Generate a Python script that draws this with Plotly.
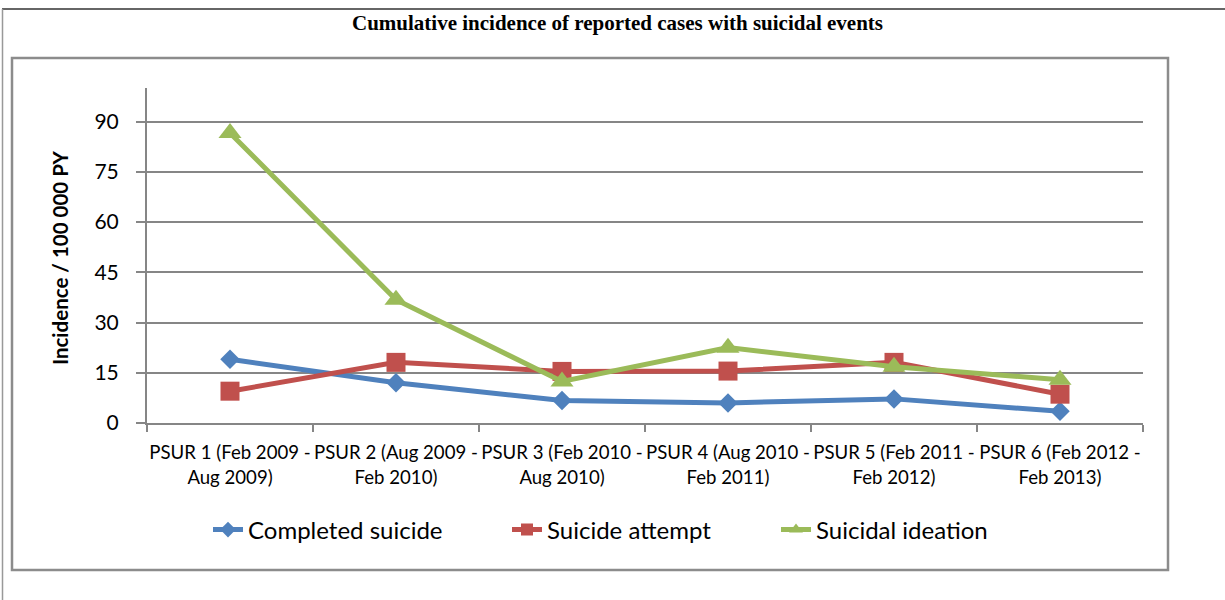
import plotly.graph_objects as go

categories = [
    "PSUR 1 (Feb 2009 -<br>Aug 2009)",
    "PSUR 2 (Aug 2009 -<br>Feb 2010)",
    "PSUR 3 (Feb 2010 -<br>Aug 2010)",
    "PSUR 4 (Aug 2010 -<br>Feb 2011)",
    "PSUR 5 (Feb 2011 -<br>Feb 2012)",
    "PSUR 6 (Feb 2012 -<br>Feb 2013)",
]
completed_suicide = [19.0, 12.0, 6.7, 6.0, 7.2, 3.5]
suicide_attempt = [9.5, 18.1, 15.4, 15.5, 18.1, 8.6]
suicidal_ideation = [86.6, 36.8, 12.4, 22.5, 16.8, 12.9]
y_ticks = [0, 15, 30, 45, 60, 75, 90]

W, H = 1225, 600
L, R, T, B = 147, 1143, 88, 423


def px_x(p):
    return (p - L) / (R - L)


def px_y(p):
    return (B - p) / (B - T)


FONT = "Lato, 'Open Sans', sans-serif"

fig = go.Figure()
series = [
    ("Completed suicide", completed_suicide, "#4F81BD", "diamond", 15, "legend", 250),
    ("Suicide attempt", suicide_attempt, "#C0504D", "square", 19, "legend2", 549),
    ("Suicidal ideation", suicidal_ideation, "#9BBB59", "triangle-up", 20, "legend3", 818),
]
legends = {}
for name, vals, col, sym, sz, leg, text_x in series:
    fig.add_trace(go.Scatter(
        x=categories, y=vals, name=name, mode="lines+markers",
        line=dict(color=col, width=5),
        marker=dict(symbol=sym, size=sz, color=col, line=dict(width=0)),
        legend=leg,
    ))
    legends[leg] = dict(
        orientation="h", x=px_x(text_x - 42), xanchor="left",
        y=px_y(530), yanchor="middle", itemsizing="constant",
        bgcolor="rgba(0,0,0,0)", borderwidth=0,
        font=dict(family=FONT, size=24, color="#000"),
    )

fig.update_layout(
    width=W, height=H,
    margin=dict(l=L, r=W - R, t=T, b=H - B, pad=0),
    paper_bgcolor="white", plot_bgcolor="white",
    showlegend=True,
    xaxis=dict(type="category", range=[-0.5, 5.5], showgrid=False,
               showline=True, linecolor="#868686", linewidth=2,
               ticks="outside", ticklen=7, tickwidth=2, tickcolor="#868686",
               tickson="boundaries", ticklabelstandoff=12, tickangle=0,
               tickfont=dict(family=FONT, size=18.6, color="#000"),
               fixedrange=True),
    yaxis=dict(range=[0, 100], tickvals=y_ticks, showgrid=True,
               gridcolor="#868686", gridwidth=2, zeroline=False,
               showline=True, linecolor="#868686", linewidth=2,
               ticks="outside", ticklen=9, tickwidth=2, tickcolor="#868686",
               tickfont=dict(family=FONT, size=21, color="#000"),
               ticklabelstandoff=13),
    **legends,
)

fig.add_annotation(
    text="<b>Cumulative incidence of reported cases with suicidal events</b>",
    xref="paper", yref="paper", x=px_x(617), y=px_y(23),
    xanchor="center", yanchor="middle", showarrow=False,
    font=dict(family="'Liberation Serif', 'Times New Roman', serif", size=21, color="#000"),
)
fig.add_annotation(
    text="<b>Incidence / 100 000 PY</b>",
    xref="paper", yref="paper", x=px_x(60), y=px_y(258),
    xanchor="center", yanchor="middle", textangle=-90, showarrow=False,
    font=dict(family=FONT, size=20.5, color="#000"),
)

# outer frame
fig.add_shape(type="line", xref="paper", yref="paper", x0=px_x(2), x1=px_x(1225),
              y0=px_y(9), y1=px_y(9), line=dict(color="#333333", width=1.5))
fig.add_shape(type="line", xref="paper", yref="paper", x0=px_x(2.5), x1=px_x(2.5),
              y0=px_y(9), y1=px_y(600), line=dict(color="#999999", width=1.5))
# chart area frame
fig.add_shape(type="rect", xref="paper", yref="paper", x0=px_x(12), x1=px_x(1168),
              y0=px_y(570), y1=px_y(58), line=dict(color="#8C8C8C", width=2.5),
              fillcolor="rgba(0,0,0,0)", layer="below")

fig.write_html("out.html")
